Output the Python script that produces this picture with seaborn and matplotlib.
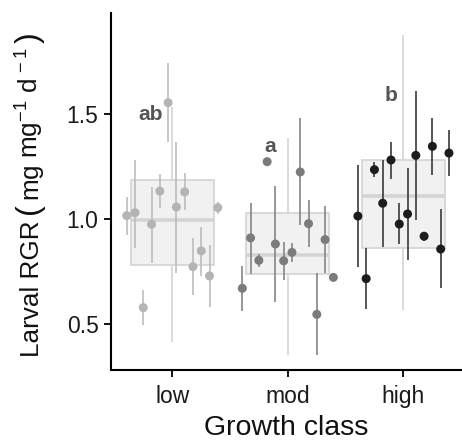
import numpy as np
import pandas as pd
import matplotlib
matplotlib.use("Agg")
import matplotlib.pyplot as plt
from matplotlib.transforms import IdentityTransform
import seaborn as sns

# ---- data ----
classes = ["low", "mod", "high"]

# box-plot five-number summaries: whisker low, Q1, median, Q3, whisker high
box_low = [0.416, 0.781, 0.995, 1.186, 1.535]
box_mod = [0.352, 0.737, 0.827, 1.030, 1.384]
box_high = [0.567, 0.863, 1.110, 1.281, 1.876]

# group means with error-bar limits
low_mean = [1.016, 1.030, 0.578, 0.975, 1.133, 1.554, 1.057, 1.129, 0.773, 0.848, 0.729, 1.054]
low_lo = [0.924, 0.860, 0.495, 0.792, 1.051, 1.368, 0.741, 1.043, 0.638, 0.729, 0.582, 1.024]
low_hi = [1.106, 1.281, 0.662, 1.154, 1.213, 1.741, 1.368, 1.218, 0.908, 0.963, 0.876, 1.082]

mod_mean = [0.670, 0.910, 0.803, 1.273, 0.881, 0.801, 0.841, 1.224, 0.978, 0.546, 0.902, 0.722]
mod_lo = [0.562, 0.738, 0.773, 1.273, 0.606, 0.710, 0.794, 0.971, 0.868, 0.352, 0.741, 0.722]
mod_hi = [0.778, 1.078, 0.833, 1.273, 1.157, 0.892, 0.887, 1.480, 1.090, 0.741, 1.062, 0.722]

high_mean = [1.014, 0.716, 1.235, 1.075, 1.281, 0.976, 1.024, 1.303, 0.918, 1.346, 0.857, 1.314]
high_lo = [0.773, 0.570, 1.201, 0.865, 1.192, 0.881, 0.805, 0.995, 0.897, 1.210, 0.670, 1.206]
high_hi = [1.257, 0.860, 1.273, 1.281, 1.368, 1.075, 1.241, 1.610, 0.940, 1.482, 1.048, 1.424]

letters = ["ab", "a", "b"]
letter_y = [1.50, 1.344, 1.59]

# ---- style ----
sns.set_theme(style="ticks")
plt.rcParams["font.family"] = ["Liberation Sans", "DejaVu Sans"]
plt.rcParams["mathtext.fontset"] = "custom"
plt.rcParams["mathtext.rm"] = "Liberation Sans"
plt.rcParams["mathtext.it"] = "Liberation Sans:italic"
plt.rcParams["mathtext.bf"] = "Liberation Sans:bold"

W, H = 462, 440
fig = plt.figure(figsize=(W / 100, H / 100), dpi=100)
ax = fig.add_axes([111 / W, 1 - 370 / H, 1 - 111 / W, (370 - 13) / H])

box_df = pd.DataFrame({
    "cls": np.repeat(classes, 5),
    "val": np.concatenate([box_low, box_mod, box_high]),
})
box_edge = "#d4d4d4"
sns.boxplot(data=box_df, x="cls", y="val", order=classes, ax=ax,
            width=0.72, color="#f1f1f1", linecolor=box_edge, linewidth=1.2,
            showfliers=False, showcaps=False, whis=1.5, saturation=1,
            medianprops={"linewidth": 2.6, "color": box_edge},
            boxprops={"zorder": 2}, whiskerprops={"zorder": 1.5})

groups = [
    (low_mean, low_lo, low_hi, "#b4b4b4", "#bdbdbd"),
    (mod_mean, mod_lo, mod_hi, "#7b7b7b", "#858585"),
    (high_mean, high_lo, high_hi, "#1c1c1c", "#3a3a3a"),
]
for i, (m, lo, hi, pcol, lcol) in enumerate(groups):
    n = len(m)
    pos = i + np.linspace(-0.394, 0.394, n)
    ax.vlines(pos, lo, hi, color=lcol, linewidth=1.2, zorder=3)
    sns.scatterplot(x=pos, y=m, color=pcol, s=42, edgecolor="none",
                    ax=ax, zorder=4, legend=False)
    ax.text(i - 0.19 + 0.04 * i, letter_y[i], letters[i], ha="center", va="center",
            fontsize=15, fontweight="bold", color="#555555", zorder=5)

ax.set_xlim(-0.53, 2.507)
ax.set_ylim(0.281, 1.981)
ax.set_xticks([0, 1, 2])
ax.set_xticklabels(classes)
ax.set_yticks([0.5, 1.0, 1.5])
ax.set_yticklabels(["0.5", "1.0", "1.5"])
ax.tick_params(axis="both", labelsize=16.5, length=5, width=1.3, color="black",
               labelcolor="#1a1a1a", pad=4)
ax.tick_params(axis="x", pad=6)
for s in ["top", "right"]:
    ax.spines[s].set_visible(False)
for s in ["left", "bottom"]:
    ax.spines[s].set_linewidth(1.5)
    ax.spines[s].set_color("black")

ax.set_xlabel("Growth class", fontsize=20.5, labelpad=5, color="#111111")
ax.set_ylabel("")

# y-axis title built from pieces so the brackets and spacing match
renderer = fig.canvas.get_renderer()
base_x = 39           # baseline x in pixels
y = H - 357           # start (bottom) in display pixels
pieces = [
    ("Larval RGR", 18.8, 0, 6),
    ("(", 23, -1.5, 3),
    (r"$\mathrm{mg}$", 18.8, 0, 6),
    (r"$\mathrm{mg}^{-1}$", 18.8, 0, 7),
    (r"$\mathrm{d}^{\,-1}$", 18.8, 0, 4),
    (")", 23, -1.5, 0),
]
for s, size, dx, gap in pieces:
    t = fig.text(base_x + dx, y, s, rotation=90, rotation_mode="anchor",
                 ha="left", va="baseline", fontsize=size, color="#111111",
                 transform=IdentityTransform())
    bb = t.get_window_extent(renderer)
    y += bb.height + gap

fig.savefig("out.png", dpi=100)
